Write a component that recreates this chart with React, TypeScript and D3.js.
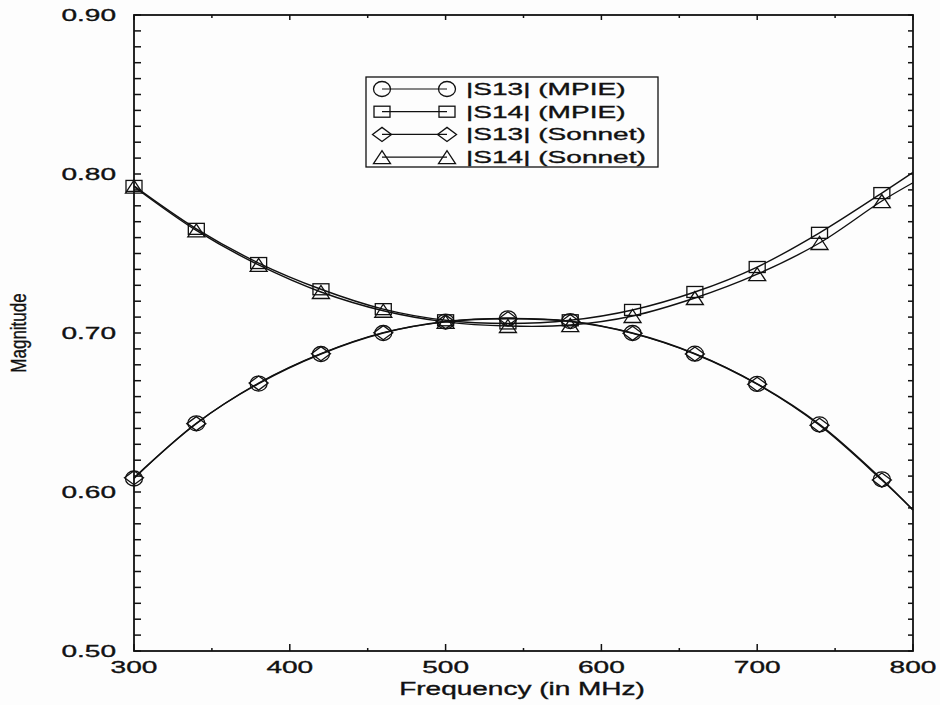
import React from "react";
import * as d3 from "d3";

const freqs = [300, 340, 380, 420, 460, 500, 540, 580, 620, 660, 700, 740, 780, 800];
const s13Mpie = [0.6085, 0.6432, 0.6682, 0.6868, 0.7000, 0.7072, 0.7092, 0.7075, 0.7000, 0.6870, 0.6680, 0.6425, 0.6080, 0.5887];
const s14Mpie = [0.7925, 0.7655, 0.7440, 0.7275, 0.7150, 0.7080, 0.7060, 0.7080, 0.7145, 0.7258, 0.7415, 0.7630, 0.7880, 0.8010];
const s13Sonnet = [0.6090, 0.6430, 0.6685, 0.6870, 0.7002, 0.7070, 0.7090, 0.7072, 0.6998, 0.6868, 0.6678, 0.6420, 0.6075, 0.5887];
const s14Sonnet = [0.7920, 0.7645, 0.7428, 0.7258, 0.7140, 0.7070, 0.7044, 0.7050, 0.7107, 0.7220, 0.7370, 0.7566, 0.7830, 0.7945];
const seriesNames = ["|S13| (MPIE)", "|S14| (MPIE)", "|S13| (Sonnet)", "|S14| (Sonnet)"];
const seriesMarkers = ["circle", "square", "diamond", "triangle"];
const xTicks = [300, 400, 500, 600, 700, 800];
const yTicks = [0.5, 0.6, 0.7, 0.8, 0.9];

const FONT = "'Liberation Sans', Arial, Helvetica, sans-serif";
const SX = 1.65;

const L = 134, R = 913, T = 15, B = 651;

function SText({ x, y, anchor = "start", size = 17, sx = SX, children }: any) {
  return (
    <g transform={`translate(${x},${y}) scale(${sx},1)`}>
      <text textAnchor={anchor} fontSize={size} fontFamily={FONT} fill="#111" stroke="#111" strokeWidth={0.35}>
        {children}
      </text>
    </g>
  );
}

function Marker({ type, x, y }: { type: string; x: number; y: number }) {
  const st = { fill: "none", stroke: "#111", strokeWidth: 1.3 };
  if (type === "circle") return <ellipse cx={x} cy={y} rx={8.5} ry={7.5} {...st} />;
  if (type === "square") return <rect x={x - 8} y={y - 5.5} width={16} height={11} {...st} />;
  if (type === "diamond")
    return <path d={`M${x - 9.5},${y} L${x},${y - 7} L${x + 9.5},${y} L${x},${y + 7} Z`} {...st} />;
  return <path d={`M${x - 8.5},${y + 6.5} L${x},${y - 6.5} L${x + 8.5},${y + 6.5} Z`} {...st} />;
}

export default function App() {
  const x = d3.scaleLinear().domain([300, 800]).range([L, R]);
  const y = d3.scaleLinear().domain([0.5, 0.9]).range([B, T]);
  const all = [s13Mpie, s14Mpie, s13Sonnet, s14Sonnet];
  const line = d3
    .line<[number, number]>()
    .x((d) => x(d[0]))
    .y((d) => y(d[1]))
    .curve(d3.curveCatmullRom.alpha(0.5));

  const xMinor = d3.range(300, 801, 50);
  const yMinor = d3.range(0, 41).map((i) => 0.5 + i * 0.01);

  const legX = 366, legY = 77, legW = 292, legH = 90;
  const rowY = (i: number) => legY + 12 + i * 22.7;

  return (
    <svg width={940} height={705} style={{ position: "absolute", left: 0, top: 0, background: "#fdfdfd" }}>
      <rect x={0} y={0} width={940} height={705} fill="#fdfdfd" />
      {/* series */}
      {all.map((vals, si) => (
        <g key={si}>
          <path
            d={line(freqs.map((f, i) => [f, vals[i]] as [number, number])) || ""}
            fill="none"
            stroke="#111"
            strokeWidth={1.4}
          />
          {freqs.map((f, i) =>
            f <= 780 ? <Marker key={i} type={seriesMarkers[si]} x={x(f)} y={y(vals[i])} /> : null
          )}
        </g>
      ))}
      {/* frame */}
      <rect x={L} y={T} width={R - L} height={B - T} fill="none" stroke="#111" strokeWidth={1.8} />
      {/* x ticks */}
      {xMinor.map((v) => {
        const major = v % 100 === 0;
        return (
          <g key={v}>
            <line x1={x(v)} x2={x(v)} y1={B} y2={B - (major ? 7 : 3)} stroke="#111" strokeWidth={1.5} />
            <line x1={x(v)} x2={x(v)} y1={T} y2={T + (major ? 5 : 3)} stroke="#111" strokeWidth={1.5} />
          </g>
        );
      })}
      {/* y ticks */}
      {yMinor.map((v, i) => (
        <g key={i}>
          <line x1={L} x2={L + 7} y1={y(v)} y2={y(v)} stroke="#111" strokeWidth={1.5} />
          <line x1={R} x2={R - 5} y1={y(v)} y2={y(v)} stroke="#111" strokeWidth={1.5} />
        </g>
      ))}
      {/* tick labels */}
      {yTicks.map((v) => (
        <SText key={v} x={116} y={y(v) + 6} anchor="end">
          {d3.format(".2f")(v)}
        </SText>
      ))}
      {xTicks.map((v) => (
        <SText key={v} x={x(v)} y={673} anchor="middle">
          {String(v)}
        </SText>
      ))}
      {/* axis titles */}
      <SText x={522} y={695} anchor="middle" size={17.5} sx={1.6}>
        Frequency (in MHz)
      </SText>
      <g transform={`translate(26,333) rotate(-90) scale(1,1.25)`}>
        <text textAnchor="middle" fontSize={17} fontFamily={FONT} fill="#111" stroke="#111" strokeWidth={0.3}>
          Magnitude
        </text>
      </g>
      {/* legend */}
      <rect x={legX} y={legY} width={legW} height={legH} fill="#fdfdfd" stroke="#111" strokeWidth={1.3} />
      {seriesNames.map((name, i) => (
        <g key={name}>
          <line x1={382} x2={447} y1={rowY(i)} y2={rowY(i)} stroke="#111" strokeWidth={1.2} />
          <Marker type={seriesMarkers[i]} x={382} y={rowY(i)} />
          <Marker type={seriesMarkers[i]} x={447} y={rowY(i)} />
          <SText x={466} y={rowY(i) + 6}>
            {name}
          </SText>
        </g>
      ))}
    </svg>
  );
}
